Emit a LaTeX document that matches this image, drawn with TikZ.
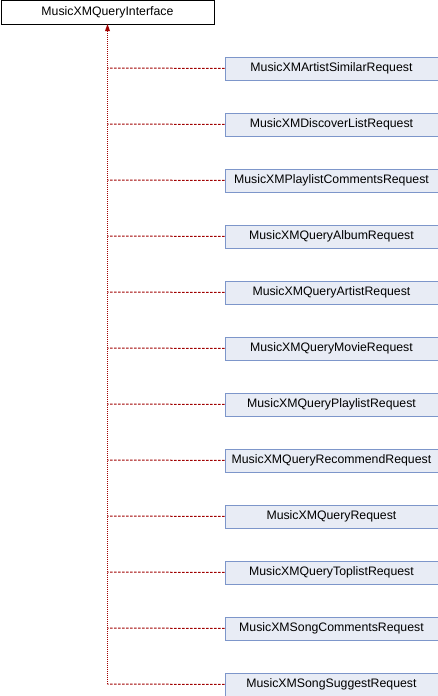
\documentclass[tikz,border=0pt]{standalone}
\usepackage{fontspec}
\setmainfont{Liberation Sans}
\usetikzlibrary{arrows.meta}
\definecolor{edgered}{HTML}{A00000}
\definecolor{childfill}{HTML}{E8ECF5}
\definecolor{childdraw}{HTML}{7D96CA}
\tikzset{
  x=1pt,y=-1pt,
  base/.style={draw=black,fill=white,line width=0.9pt,minimum width=213pt,minimum height=23pt,inner sep=0pt,anchor=north west,font=\fontsize{12.3}{14}\selectfont},
  child/.style={draw=childdraw,fill=childfill,line width=0.9pt,minimum width=213pt,minimum height=23pt,inner sep=0pt,anchor=north west,font=\fontsize{12.3}{14}\selectfont},
  impl/.style={draw=edgered,line width=1pt,dash pattern=on 2.5pt off 1.5pt},
  trunkline/.style={draw=edgered,line width=1pt,dash pattern=on 1pt off 1pt},
}
\begin{document}
\begin{tikzpicture}
\useasboundingbox (0,0) rectangle (438,696);
\node[base] (root) at (0.5,0.5) {MusicXMQueryInterface};
\foreach \name [count=\i from 0] in {MusicXMArtistSimilarRequest,MusicXMDiscoverListRequest,MusicXMPlaylistCommentsRequest,MusicXMQueryAlbumRequest,MusicXMQueryArtistRequest,MusicXMQueryMovieRequest,MusicXMQueryPlaylistRequest,MusicXMQueryRecommendRequest,MusicXMQueryRequest,MusicXMQueryToplistRequest,MusicXMSongCommentsRequest,MusicXMSongSuggestRequest}{
  \node[child] (c\i) at (224.5,{56.5+56*\i}) {\name};
  \coordinate (j\i) at (107.5,{68+56*\i});
  \draw[impl] (c\i.west) -- (j\i);
}
\coordinate (tip) at (107.5,24);
\draw[trunkline] (j11) -- (107.5,30);
\fill[edgered] (tip) -- (105,31) -- (110,31) -- cycle;
\end{tikzpicture}
\end{document}
